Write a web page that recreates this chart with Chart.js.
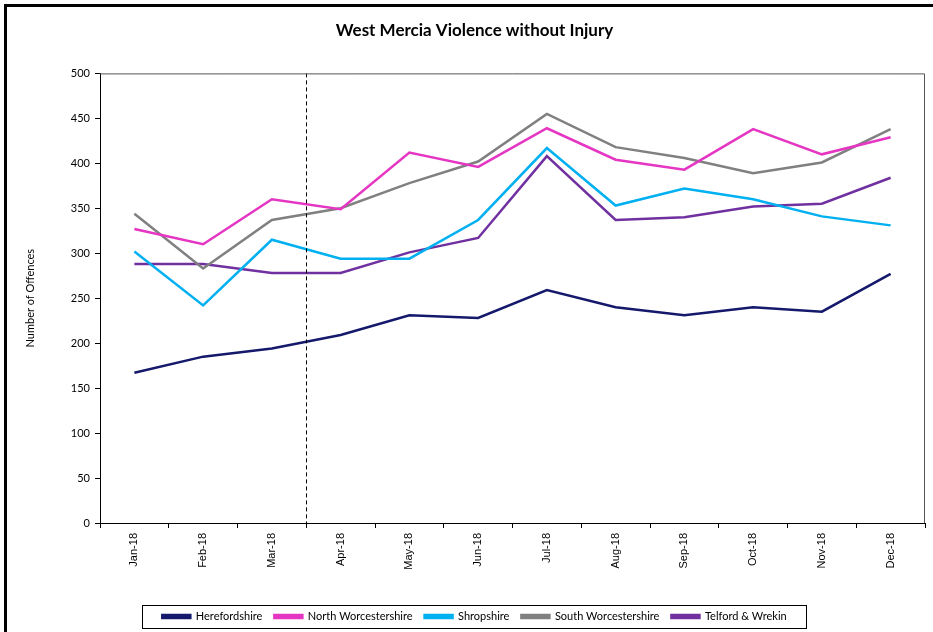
<!DOCTYPE html>
<html>
<head>
<meta charset="utf-8">
<script src="https://cdn.jsdelivr.net/npm/chart.js@4/dist/chart.umd.min.js"></script>
<style>
  html, body { margin: 0; padding: 0; background: #fff; }
  .frame {
    position: absolute;
    left: 4px;
    top: 4px;
    width: 940px;
    height: 640px;
    border-top: 3px solid #000;
    border-left: 3px solid #000;
  }
  .chart-wrap { position: absolute; left: 0; top: 0; width: 933px; height: 632px; }
</style>
</head>
<body>
<div class="frame"></div>
<div class="chart-wrap"><canvas id="chart__offences"></canvas></div>
<script>
const months = ["Jan-18", "Feb-18", "Mar-18", "Apr-18", "May-18", "Jun-18",
  "Jul-18", "Aug-18", "Sep-18", "Oct-18", "Nov-18", "Dec-18"];

const herefordshire = [167, 185, 194, 209, 231, 228, 259, 240, 231, 240, 235, 277];
const northWorcestershire = [327, 310, 360, 349, 412, 396, 439, 404, 393, 438, 410, 429];
const shropshire = [302, 242, 315, 294, 294, 337, 417, 353, 372, 360, 341, 331];
const southWorcestershire = [344, 283, 337, 350, 378, 402, 455, 418, 406, 389, 401, 438];
const telfordWrekin = [288, 288, 278, 278, 301, 317, 408, 337, 340, 352, 355, 384];

const yTicks = [0, 50, 100, 150, 200, 250, 300, 350, 400, 450, 500];
// dashed marker sits between these two months
const markerBetween = ["Mar-18", "Apr-18"];

const ctx = document.getElementById("chart__offences");

// dashed vertical line, plot frame and legend box
const extras = {
  id: "extras",
  afterDatasetsDraw(chart) {
    const { ctx, chartArea, scales } = chart;
    const x = (scales.x.getPixelForValue(months.indexOf(markerBetween[0])) +
      scales.x.getPixelForValue(months.indexOf(markerBetween[1]))) / 2;
    ctx.save();
    ctx.strokeStyle = "#000";
    ctx.lineWidth = 1;
    ctx.setLineDash([4, 3]);
    ctx.beginPath();
    ctx.moveTo(Math.round(x) + 0.5, chartArea.top);
    ctx.lineTo(Math.round(x) + 0.5, chartArea.bottom + 5);
    ctx.stroke();
    ctx.setLineDash([]);
    // top and right edges of the plot area
    ctx.strokeStyle = "#555";
    ctx.beginPath();
    ctx.moveTo(chartArea.left, chartArea.top + 0.5);
    ctx.lineTo(chartArea.right - 0.5, chartArea.top + 0.5);
    ctx.lineTo(chartArea.right - 0.5, chartArea.bottom);
    ctx.stroke();
    ctx.restore();
  },
  afterDraw(chart) {
    const legend = chart.legend;
    if (!legend || !legend.legendHitBoxes.length) return;
    const boxes = legend.legendHitBoxes;
    const left = Math.min(...boxes.map((b) => b.left)) - 20;
    const right = Math.max(...boxes.map((b) => b.left + b.width)) + 20;
    const mid = boxes[0].top + boxes[0].height / 2;
    const c = chart.ctx;
    c.save();
    c.strokeStyle = "#000";
    c.lineWidth = 1;
    c.strokeRect(Math.round(left) + 0.5, Math.round(mid - 12) + 0.5, Math.round(right - left), 23);
    c.restore();
  },
};

function line(label, data, color) {
  return {
    label: label,
    data: data,
    borderColor: color,
    backgroundColor: color,
    borderWidth: 2.5,
    pointRadius: 0,
    tension: 0,
    fill: false,
  };
}

new Chart(ctx, {
  type: "line",
  data: {
    labels: months,
    datasets: [
      line("Herefordshire", herefordshire, "#14196b"),
      line("North Worcestershire", northWorcestershire, "#e535c3"),
      line("Shropshire", shropshire, "#00b0f0"),
      line("South Worcestershire", southWorcestershire, "#808080"),
      line("Telford & Wrekin", telfordWrekin, "#7030a0"),
    ],
  },
  options: {
    responsive: true,
    maintainAspectRatio: false,
    animation: false,
    events: [],
    layout: { padding: { left: 24, right: 8, top: 0, bottom: 0 } },
    plugins: {
      title: {
        display: true,
        text: "West Mercia Violence without Injury",
        color: "#000",
        font: { family: "Lato", size: 17, weight: "bold" },
        padding: { top: 20, bottom: 33 },
      },
      legend: {
        position: "bottom",
        labels: {
          color: "#000",
          font: { family: "Lato", size: 11 },
          boxWidth: 28,
          boxHeight: 3,
          padding: 12,
        },
      },
      tooltip: { enabled: false },
    },
    scales: {
      x: {
        offset: true,
        grid: {
          offset: true,
          drawOnChartArea: false,
          drawTicks: true,
          tickLength: 5,
          color: "#000",
        },
        border: { display: true, color: "#000", width: 1 },
        ticks: {
          color: "#000",
          font: { family: "Liberation Sans", size: 11 },
          minRotation: 90,
          maxRotation: 90,
          padding: 5,
        },
        afterFit(scale) {
          scale.height = 76;
        },
      },
      y: {
        min: 0,
        max: 500,
        afterBuildTicks(scale) {
          scale.ticks = yTicks.map((v) => ({ value: v }));
        },
        grid: {
          drawOnChartArea: false,
          drawTicks: true,
          tickLength: 5,
          color: "#000",
        },
        border: { display: true, color: "#000", width: 1 },
        ticks: {
          color: "#000",
          font: { family: "Lato", size: 11 },
          padding: 5,
        },
        title: {
          display: true,
          text: "Number of Offences",
          color: "#000",
          font: { family: "Lato", size: 11 },
          padding: { top: 0, bottom: 0 },
        },
        afterFit(scale) {
          scale.width = 76;
        },
      },
    },
  },
  plugins: [extras],
});
</script>
</body>
</html>
